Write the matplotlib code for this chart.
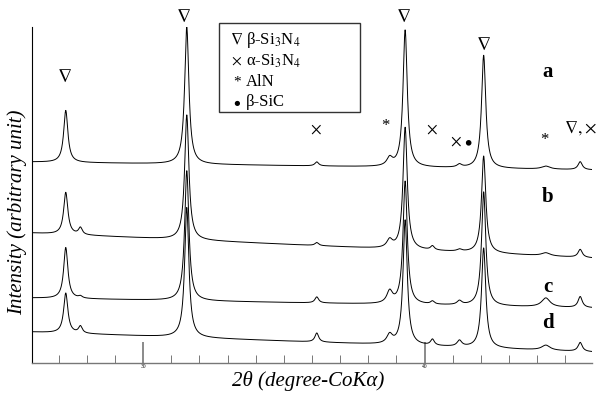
import numpy as np
import matplotlib
matplotlib.use("Agg")
import matplotlib.pyplot as plt
from matplotlib.patches import Rectangle

plt.rcParams['font.family'] = ['Liberation Serif', 'DejaVu Serif']
plt.rcParams['mathtext.fontset'] = 'stix'

# peak positions (2theta, deg) shared by all four samples
peak_pos = [27.25, 27.77, 31.55, 36.17, 38.76, 39.31, 40.28, 41.24, 42.10, 44.31, 45.53]
peak_hwhm = [0.09, 0.08, 0.09, 0.08, 0.12, 0.09, 0.08, 0.10, 0.09, 0.18, 0.09]

# peak heights per sample (arbitrary unit)
heights_a = [52, 0, 137, 4, 8, 137, 0, 3, 113, 3, 8]
heights_b = [42, 7, 125, 3, 8, 122, 4, 2, 97, 3, 8]
heights_c = [51, 2, 130, 6, 12, 123, 3, 4, 114, 9, 11]
heights_d = [40, 7, 130, 9, 9, 125, 6, 6, 100, 5, 9]

# baseline level at the left / right end of the scan
base_left = [201, 130, 65, 31]
base_right = [193, 105, 55, 11]

samples = ['a', 'b', 'c', 'd']
sample_label_y = [291, 166, 76, 40]

x_min, x_max = 26.05, 45.95


def pattern(x, heights, b0, b1):
    """Sum of Lorentzian peaks on a sloping background."""
    y = b0 + (b1 - b0) * (x - x_min) / (x_max - x_min)
    for c, w, h in zip(peak_pos, peak_hwhm, heights):
        y = y + h / (1 + ((x - c) / w) ** 2)
    return y


fig = plt.figure(figsize=(5.96, 3.95), dpi=100)
ax = fig.add_axes([32 / 596, 32 / 395, 560 / 596, 336 / 395])

x = np.linspace(x_min, x_max, 3000)
all_heights = [heights_a, heights_b, heights_c, heights_d]
for i, hts in enumerate(all_heights):
    ax.plot(x, pattern(x, hts, base_left[i], base_right[i]), color='black', lw=0.7)

ax.set_xlim(x_min, x_max)
ax.set_ylim(0, 336)

for s in ['top', 'right']:
    ax.spines[s].set_visible(False)
ax.spines['left'].set_linewidth(0.8)
ax.spines['bottom'].set_color('#777777')
ax.spines['bottom'].set_linewidth(1.0)
ax.set_yticks([])
ax.set_xticks([30, 40])
ax.set_xticklabels(['30', '40'], fontsize=4)
ax.set_xticks(np.arange(27, 46), minor=True)
ax.tick_params(axis='x', which='major', direction='in', length=15, width=1.2, color='#777777', pad=1)
ax.tick_params(axis='x', which='minor', direction='in', length=6, width=0.7, color='#777777')

fig.text(308 / 596, 1 - 381 / 395, '2θ (degree-CoKα)', fontsize=15, style='italic',
         ha='center', va='center')
fig.text(17 / 596, 1 - 212 / 395, 'Intensity (arbitrary unit)', fontsize=15, style='italic',
         ha='center', va='center', rotation=90)

# phase markers above the peaks
tri = r'$\nabla$'
marks = [(27.2, 286, tri, 14), (31.45, 346, tri, 14), (39.25, 346, tri, 14), (42.1, 318, tri, 14),
         (36.13, 233, r'$\times$', 12), (40.25, 233, r'$\times$', 12), (41.1, 221, r'$\times$', 12),
         (41.56, 221, r'$\bullet$', 15), (38.62, 237, '*', 12), (44.26, 223, '*', 12),
         (45.55, 235, tri + r'$,\!\times$', 13)]
for mx, my, m, fs in marks:
    ax.text(mx, my, m, ha='center', va='center', fontsize=fs, clip_on=False)

for s, yy in zip(samples, sample_label_y):
    ax.text(44.38, yy, s, ha='center', va='center', fontsize=15, fontweight='bold')

# legend box
fig.patches.append(Rectangle((219 / 596, 1 - 112 / 395), 141 / 596, 89 / 395,
                             transform=fig.transFigure, fill=False, lw=1.0, color='#333333'))
leg_rows = [(40, r'$\nabla$', 'β-Si$_3$N$_4$', 12),
            (61, r'$\times$', 'α-Si$_3$N$_4$', 11),
            (82, '*', 'AlN', 11),
            (102, r'$\bullet$', 'β-SiC', 14)]
for yy, sym, lab, fs in leg_rows:
    fig.text(237 / 596, 1 - yy / 395, sym, ha='center', va='center', fontsize=fs)
    fig.text(246 / 596, 1 - yy / 395, lab, ha='left', va='center', fontsize=12)

fig.savefig('out.png', dpi=100)
